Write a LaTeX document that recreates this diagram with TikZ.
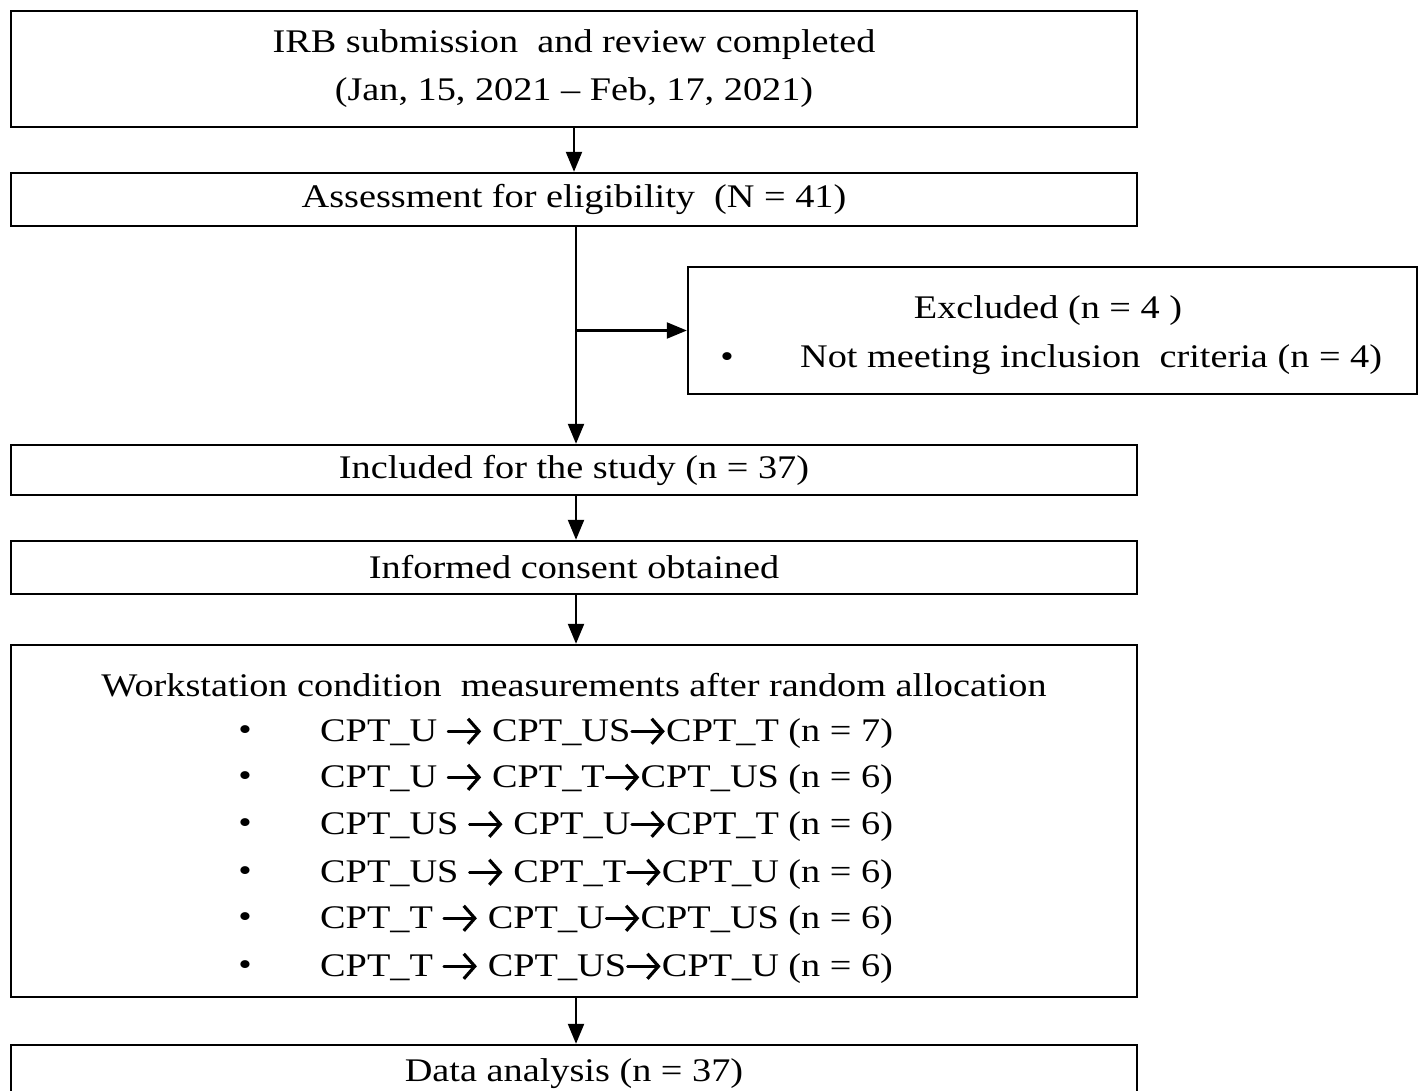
\documentclass[tikz,border=0pt]{standalone}
\usepackage{fontspec}
\setmainfont{Liberation Serif}[FakeStretch=1.16]
\usetikzlibrary{arrows.meta}
\newcommand{\rarr}{\tikz[baseline=0pt]{\draw[line width=2.8pt, line cap=round, -{Straight Barb[length=11pt,width=25pt,line width=3.2pt]}] (0,10.5pt) -- (33pt,10.5pt);}}
\begin{document}
\begin{tikzpicture}[x=1pt,y=-1pt,
  box/.style={draw, line width=2.4pt, inner sep=0pt, align=center, font=\fontsize{33}{48}\selectfont},
  txt/.style={inner sep=0pt, font=\fontsize{33}{48}\selectfont},
  conn/.style={line width=2.2pt, -{Triangle[length=20pt,width=16pt]}}]
\useasboundingbox (0,0) rectangle (1423,1091);
\fill[white] (0,0) rectangle (1423,1091);
\clip (0,0) rectangle (1423,1091);
% boxes
\node[box, minimum width=1126pt, minimum height=116pt] (irb) at (574,69)
  {IRB submission~ and review completed\\(Jan, 15, 2021 -- Feb, 17, 2021)};
\node[box, minimum width=1126pt, minimum height=53pt] (assess) at (574,199.5)
  {Assessment for eligibility~ (N = 41)};
\node[box, minimum width=729pt, minimum height=127pt] (excl) at (1052.5,330.5) {};
\node[txt] (exclt) at (1048,311) {Excluded (n = 4 )};
\node[txt] (exclb) at (727,360) {•};
\node[txt, anchor=west] (excli) at (800,360) {Not meeting inclusion~ criteria (n = 4)};
\node[box, minimum width=1126pt, minimum height=50pt] (incl) at (574,470)
  {Included for the study (n = 37)};
\node[box, minimum width=1126pt, minimum height=53pt] (cons) at (574,567.5)
  {Informed consent obtained};
\node[box, minimum width=1126pt, minimum height=352pt] (work) at (574,821) {};
\node[txt] (workt) at (574,685) {Workstation condition~ measurements after random allocation};
\foreach \i/\yy/\t in {1/733/{CPT\_U \rarr{} CPT\_US\rarr{}CPT\_T (n = 7)},
                     2/779/{CPT\_U \rarr{} CPT\_T\rarr{}CPT\_US (n = 6)},
                     3/826/{CPT\_US \rarr{} CPT\_U\rarr{}CPT\_T (n = 6)},
                     4/874/{CPT\_US \rarr{} CPT\_T\rarr{}CPT\_U (n = 6)},
                     5/920/{CPT\_T \rarr{} CPT\_U\rarr{}CPT\_US (n = 6)},
                     6/968/{CPT\_T \rarr{} CPT\_US\rarr{}CPT\_U (n = 6)}}{
  \node[txt] (b\i) at (245,\yy) {•};
  \node[txt, anchor=west] (r\i) at (320,\yy) {\t};
}
\node[box, minimum width=1126pt, minimum height=70pt] (data) at (574,1080) {};
\node[txt] (datat) at (574,1074) {Data analysis (n = 37)};
% connectors
\draw[conn] (irb.south) -- (assess.north);
\draw[conn] ([xshift=2pt]assess.south) -- ([xshift=2pt]incl.north);
\coordinate (br) at ([xshift=2pt]assess.south |- excl.west);
\draw[conn] (br) -- (excl.west);
\draw[conn] ([xshift=2pt]incl.south) -- ([xshift=2pt]cons.north);
\draw[conn] ([xshift=2pt]cons.south) -- ([xshift=2pt]work.north);
\draw[conn] ([xshift=2pt]work.south) -- ([xshift=2pt]data.north);
\end{tikzpicture}
\end{document}
